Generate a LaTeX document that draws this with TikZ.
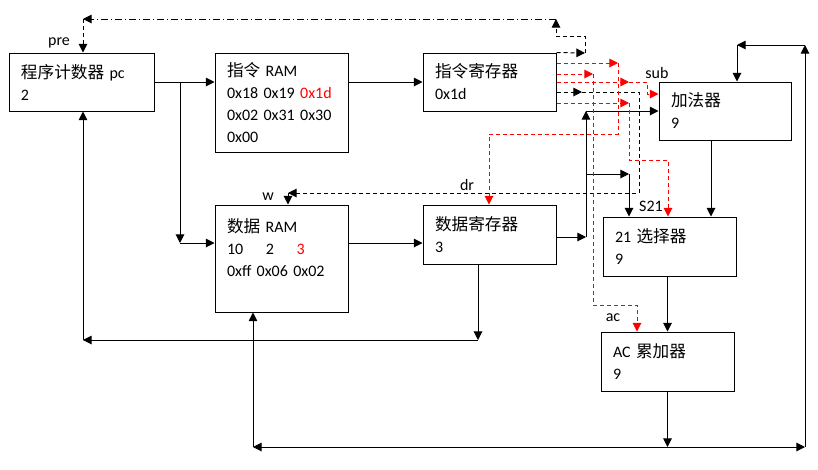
\documentclass[tikz,border=0pt]{standalone}
\usepackage{fontspec}
\setmainfont{Carlito}
\newfontfamily\cjk[Scale=1.04]{Noto Sans CJK SC}
\usetikzlibrary{arrows.meta}
\newcommand{\zh}[1]{{\cjk #1}}
\definecolor{sigred}{RGB}{255,0,0}

\tikzset{every picture/.style={line width=0.75pt}}
\tikzset{
  blk/.style 2 args={draw, align=left, inner xsep=9pt, inner ysep=0pt, text width=#1, minimum height=#2, font=\fontsize{12pt}{16.5pt}\selectfont},
  lbl/.style={inner sep=0pt, font=\fontsize{12pt}{14pt}\selectfont},
  arr/.style={-{Triangle[length=6.5pt,width=6.5pt]}},
  ctl/.style={dash pattern=on 3pt off 2.25pt},
  ctlb/.style={dash pattern=on 5.25pt off 2.25pt on 0.75pt off 2.25pt},
  sig/.style={ctl, draw=sigred}
}

\begin{document}
\begin{tikzpicture}[x=0.75pt,y=0.75pt,yscale=-1,xscale=1]
\useasboundingbox (0,0) rectangle (818,469);

%Shape: boxes
\node[blk={90.75pt}{43.5pt}] (pc) at (81.5,82) {\zh{程序计数器}~pc\\2};
\node[blk={81.75pt}{74.25pt}] (iram) at (281.5,102.5) {\zh{指令}~RAM\\0x18~0x19~{\color{sigred}0x1d}\\0x02~0x31~0x30\\0x00};
\node[blk={81.75pt}{43.5pt}] (ireg) at (489.5,82) {\zh{指令寄存器}\\0x1d};
\node[blk={81pt}{43.5pt}] (add) at (725,111) {\zh{加法器}\\9};
\node[blk={81.75pt}{80.25pt}] (dram) at (281.5,258.5) {\zh{数据}~RAM\\10\hspace{17pt}2\hspace{17pt}{\color{sigred}3}\\0xff~0x06~0x02\\\mbox{}};
\node[blk={81.75pt}{44.25pt}] (dreg) at (489.5,234.5) {\zh{数据寄存器}\\3};
\node[blk={81.75pt}{44.25pt}] (sel) at (669.5,246.5) {21~\zh{选择器}\\9};
\node[blk={81.75pt}{44.25pt}] (acc) at (667.5,361.5) {AC~\zh{累加器}\\9};

% Text Node
\node[lbl] (pre) at (59,43) {pre};
\node[lbl] (w) at (268,197) {w};
\node[lbl] (dr) at (467,185) {dr};
\node[lbl] (sub) at (657,73) {sub};
\node[lbl] (s21) at (651,206) {S21};
\node[lbl] (ac) at (613,318) {ac};

%Connector: pc out
\coordinate (br1) at (180,82);
\coordinate (br2) at (180,243);
\draw[arr] (pc.east) -- (iram.west |- pc.east);
\draw[arr] (br1) -- (br2);
\draw[arr] (br2) -- (dram.west |- br2);
\draw[arr] (ireg.west -| iram.east) -- (ireg.west);
\draw[arr] (dram.east |- br2) -- (dreg.west |- br2);

%Connector: dreg out
\coordinate (d1) at (586,237);
\coordinate (d2) at (586,111);
\coordinate (d3) at (586,174);
\coordinate (d4) at (629,174);
\draw[arr] (dreg.east |- d1) -- (d1);
\draw[arr] (d1) -- (d2);
\draw[arr] (d2) -- (add.west);
\draw[arr] (d3) -- (d4);
\draw[arr] (d4) -- (d4 |- sel.north);

%Connector: add, sel, acc
\coordinate (a1) at (711,140);
\draw[arr] (a1) -- (a1 |- sel.north);
\draw[arr] (sel.south -| acc.south) -- (acc.north);
\coordinate (b1) at (668,447);
\coordinate (b2) at (805,447);
\coordinate (b3) at (805,45);
\coordinate (b4) at (737,45);
\coordinate (b5) at (253,447);
\draw[arr] (acc.south) -- (acc.south |- b1);
\draw[arr] (acc.south |- b1) -- (b2);
\draw[arr] (b2) -- (b3);
\draw[arr] (b3) -- (b4);
\draw[arr] (b4) -- (b4 |- add.north);
\draw[arr] (acc.south |- b1) -- (b5);
\draw[arr] (b5) -- (b5 |- dram.south);

%Connector: dreg back to pc
\coordinate (c1) at (478,340);
\coordinate (c2) at (83,340);
\draw[arr] (c1 |- dreg.south) -- (c1);
\draw[arr] (c1) -- (c2);
\draw[arr] (c2) -- (c2 |- pc.south);

%Connector: pre
\coordinate (p1) at (585,53);
\coordinate (p2) at (585,36);
\coordinate (p3) at (556,36);
\coordinate (p4) at (556,19);
\coordinate (p5) at (83,19);
\draw[ctl,arr] (ireg.north east) -- (p1);
\draw[ctl,arr] (p1) -- (p2) -- (p3) -- (p4);
\draw[ctlb,arr] (p4) -- (p5);
\draw[ctl,arr] (p5) -- (p5 |- pc.north);

%Connector: w
\coordinate (w1) at (582,92);
\coordinate (w2) at (639,92);
\coordinate (w3) at (639,193);
\coordinate (w4) at (288,193);
\draw[ctl,arr] (ireg.east |- w1) -- (w1);
\draw[ctl,arr] (w1) -- (w2) -- (w3) -- (w4);
\draw[ctl,arr] (w4) -- (w4 |- dram.north);

%Connector: dr
\coordinate (r1) at (618,63);
\coordinate (r2) at (618,134);
\coordinate (r3) at (489,134);
\draw[sig,arr] (ireg.east |- r1) -- (r1);
\draw[sig,arr] (r1) -- (r2) -- (r3) -- (r3 |- dreg.north);

%Connector: ac
\coordinate (e1) at (593,74);
\coordinate (e2) at (593,305);
\coordinate (e3) at (637,305);
\draw[sig,arr] (ireg.east |- e1) -- (e1);
\draw[sig,arr] (e1) -- (e2) -- (e3) -- (e3 |- acc.north);

%Connector: sub
\coordinate (u1) at (629,82);
\coordinate (u2) at (647,82);
\coordinate (u3) at (647,94);
\draw[sig,arr] (ireg.east |- u1) -- (u1);
\draw[sig,arr] (u1) -- (u2) -- (u3) -- (add.west |- u3);

%Connector: S21
\coordinate (s1) at (629,103);
\coordinate (s2) at (629,160);
\coordinate (s3) at (668,160);
\draw[sig,arr] (ireg.east |- s1) -- (s1);
\draw[sig,arr] (s1) -- (s2) -- (s3) -- (s3 |- sel.north);

\end{tikzpicture}
\end{document}
